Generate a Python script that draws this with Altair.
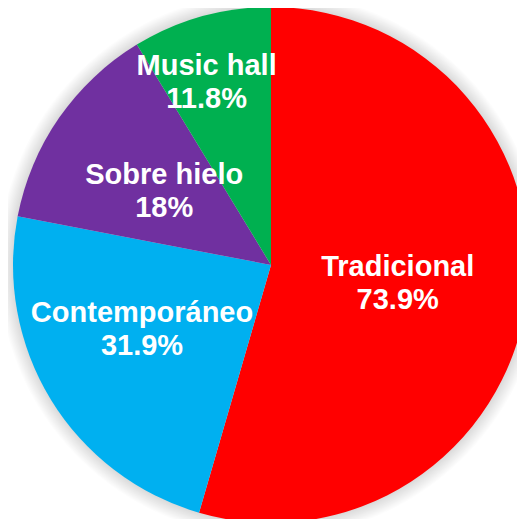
import altair as alt
import pandas as pd

categories = ["Tradicional", "Contemporáneo", "Sobre hielo", "Music hall"]
values = [73.9, 31.9, 18, 11.8]
colors = ["#FF0000", "#00B0F0", "#7030A0", "#00B050"]

df = pd.DataFrame({
    "cat": categories,
    "value": values,
    "idx": list(range(len(categories))),
})
df["label"] = [f"{c}\n{v:g}%" for c, v in zip(categories, values)]

CX, CY, R = 263, 257, 258

base = alt.Chart(df)

# soft shadow around the pie
shadow_layers = []
for k in range(12, 0, -1):
    shadow_layers.append(
        base.transform_aggregate(total="sum(value)")
        .mark_arc(outerRadius=R + k * 1.2, color="#000000", opacity=0.01)
        .encode(theta=alt.Theta("total:Q"), x=alt.value(CX), y=alt.value(CY))
    )

pie = base.mark_arc(outerRadius=R, stroke=None).encode(
    theta=alt.Theta("value:Q", stack=True),
    order=alt.Order("idx:Q"),
    color=alt.Color("cat:N", scale=alt.Scale(domain=categories, range=colors), legend=None),
    x=alt.value(CX),
    y=alt.value(CY),
)

label_style = {
    "Tradicional": dict(radius=128, dx=0, dy=-16),
    "Contemporáneo": dict(radius=143, dx=-7, dy=-27),
    "Sobre hielo": dict(radius=130, dx=0, dy=-16),
    "Music hall": dict(radius=194, dx=-12, dy=-12),
}

text_layers = []
for cat, st in label_style.items():
    text_layers.append(
        base.mark_text(
            radius=st["radius"], dx=st["dx"], dy=st["dy"],
            font="Liberation Sans", fontSize=29, fontWeight="bold",
            color="white", lineBreak="\n", lineHeight=33,
            align="center", baseline="middle",
        ).encode(
            theta=alt.Theta("value:Q", stack=True),
            order=alt.Order("idx:Q"),
            text=alt.condition(f"datum.cat == '{cat}'", alt.Text("label:N"), alt.value("")),
            x=alt.value(CX),
            y=alt.value(CY),
        )
    )

chart = alt.layer(*shadow_layers, pie, *text_layers).properties(
    width=509, height=511, padding=0, autosize="none", background="white"
).configure_view(stroke=None)

chart.save("out.html", embed_options={"renderer": "svg", "actions": False})
